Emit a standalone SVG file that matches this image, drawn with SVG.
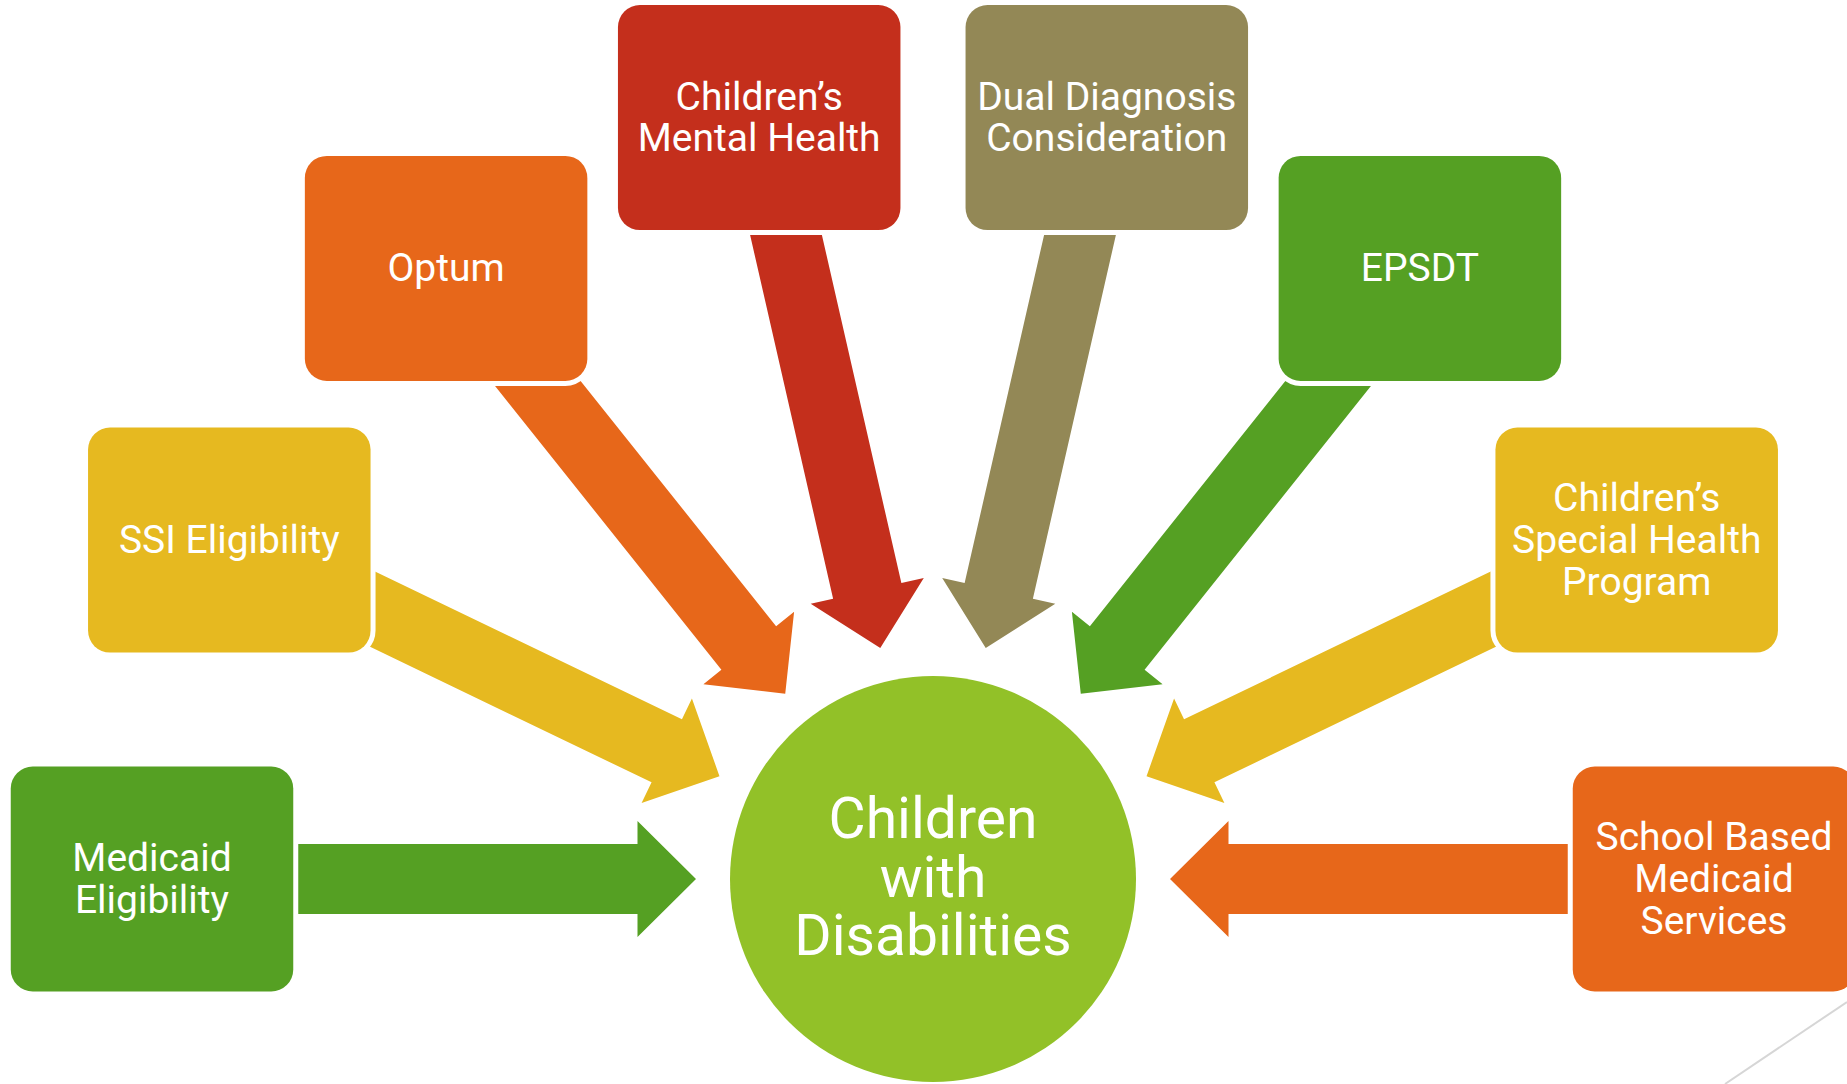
<svg xmlns="http://www.w3.org/2000/svg" width="1847" height="1084" viewBox="0 0 1847 1084">
<style>
.box{stroke:#FFFFFF;stroke-width:10;paint-order:stroke;}
.lbl{font-family:Roboto,"Liberation Sans",sans-serif;font-size:39px;fill:#FFFFFF;text-anchor:middle;}
.big{font-family:Roboto,"Liberation Sans",sans-serif;font-size:57px;fill:#FFFFFF;text-anchor:middle;}
.green{fill:#55A023;}
.gold{fill:#E6B920;}
.orange{fill:#E7671A;}
.red{fill:#C42F1C;}
.olive{fill:#938856;}
</style>
<defs>
<path id="arr" d="M237,0 L295.5,-58 L295.5,-35 L781,-35 L781,35 L295.5,35 L295.5,58 Z"/>
</defs>
<rect x="0" y="0" width="1847" height="1084" fill="#FFFFFF"/>
<line x1="1847" y1="1002" x2="1725" y2="1084" stroke="#D6D6D6" stroke-width="2"/>
<g id="connectors">
<use href="#arr" class="green" transform="translate(933 879) rotate(180)"/>
<use href="#arr" class="gold" transform="translate(933 879) rotate(205.714)"/>
<use href="#arr" class="orange" transform="translate(933 879) rotate(231.429)"/>
<use href="#arr" class="red" transform="translate(933 879) rotate(257.143)"/>
<use href="#arr" class="olive" transform="translate(933 879) rotate(282.857)"/>
<use href="#arr" class="green" transform="translate(933 879) rotate(308.571)"/>
<use href="#arr" class="gold" transform="translate(933 879) rotate(334.286)"/>
<use href="#arr" class="orange" transform="translate(933 879) rotate(0)"/>
</g>
<g id="node-center">
<circle cx="933" cy="879" r="203" fill="#92C128"/>
<text class="big"><tspan x="933" y="838">Children</tspan><tspan x="933" y="896.5">with</tspan><tspan x="933" y="955">Disabilities</tspan></text>
</g>
<g id="node-medicaid">
<rect class="box green" x="10.75" y="766.5" width="282.5" height="225" rx="22"/>
<text class="lbl"><tspan x="152" y="870.7">Medicaid</tspan><tspan x="152" y="912.7">Eligibility</tspan></text>
</g>
<g id="node-ssi">
<rect class="box gold" x="88.05" y="427.6" width="282.5" height="225" rx="22"/>
<text class="lbl" x="229.3" y="552.8">SSI Eligibility</text>
</g>
<g id="node-optum">
<rect class="box orange" x="304.85" y="155.9" width="282.5" height="225" rx="22"/>
<text class="lbl" x="446.1" y="281.1">Optum</text>
</g>
<g id="node-cmh">
<rect class="box red" x="617.95" y="5.1" width="282.5" height="225" rx="22"/>
<text class="lbl"><tspan x="759.2" y="109.8">Children’s</tspan><tspan x="759.2" y="150.8">Mental Health</tspan></text>
</g>
<g id="node-dual">
<rect class="box olive" x="965.55" y="5.1" width="282.5" height="225" rx="22"/>
<text class="lbl"><tspan x="1106.8" y="109.8">Dual Diagnosis</tspan><tspan x="1106.8" y="150.8">Consideration</tspan></text>
</g>
<g id="node-epsdt">
<rect class="box green" x="1278.65" y="155.9" width="282.5" height="225" rx="22"/>
<text class="lbl" x="1419.9" y="281.1">EPSDT</text>
</g>
<g id="node-cshp">
<rect class="box gold" x="1495.45" y="427.6" width="282.5" height="225" rx="22"/>
<text class="lbl"><tspan x="1636.7" y="510.8">Children’s</tspan><tspan x="1636.7" y="552.8">Special Health</tspan><tspan x="1636.7" y="594.8">Program</tspan></text>
</g>
<g id="node-school">
<rect class="box orange" x="1572.75" y="766.5" width="282.5" height="225" rx="22"/>
<text class="lbl"><tspan x="1714" y="849.7">School Based</tspan><tspan x="1714" y="891.7">Medicaid</tspan><tspan x="1714" y="933.7">Services</tspan></text>
</g>
</svg>
